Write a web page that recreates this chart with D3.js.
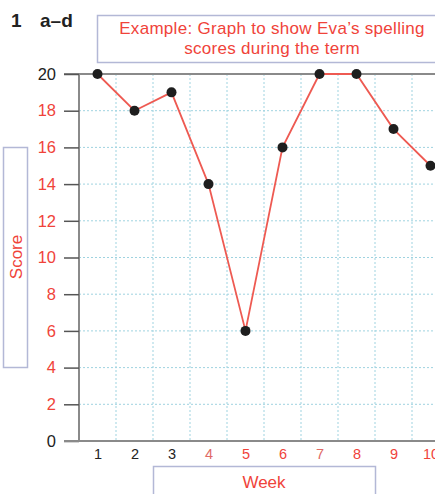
<!DOCTYPE html>
<html>
<head>
<meta charset="utf-8">
<script src="https://cdn.jsdelivr.net/npm/d3@7"></script>
<style>
  html, body { margin: 0; padding: 0; background: #fff; }
  svg { display: block; font-family: "Liberation Sans", Arial, sans-serif; }
</style>
</head>
<body>
<svg id="chart" width="435" height="494"></svg>
<script>
// Eva's spelling scores, week by week
const weeks = [1, 2, 3, 4, 5, 6, 7, 8, 9, 10];
const scores = [20, 18, 19, 14, 6, 16, 20, 20, 17, 15];
const scoreTicks = [0, 2, 4, 6, 8, 10, 12, 14, 16, 18, 20];
const weekLabels = ["1", "2", "3", "4", "5", "6", "7", "8", "9", "10"];
const weekLabelColors = ["#222", "#222", "#222", "#e06a66", "#f0433a", "#f0433a", "#e06a66", "#f0433a", "#f0433a", "#f0433a"];
const scoreLabelColors = ["#222", "#f0433a", "#f0433a", "#f0433a", "#f0433a", "#f0433a", "#f0433a", "#f0433a", "#f0433a", "#f0433a", "#222"];

const RED = "#f0433a";
const svg = d3.select("#chart");

const x = d3.scaleLinear().domain([0.5, 10.5]).range([79, 449]);
const y = d3.scaleLinear().domain([0, 20]).range([441, 74]);

// Heading
svg.append("text").attr("x", 11).attr("y", 27)
  .attr("font-size", 19).attr("font-weight", "bold").attr("fill", "#222").text("1");
svg.append("text").attr("x", 40).attr("y", 27)
  .attr("font-size", 19).attr("font-weight", "bold").attr("fill", "#222").text("a–d");

// Title box
svg.append("rect").attr("x", 97.5).attr("y", 15.5).attr("width", 345).attr("height", 47)
  .attr("fill", "#fff").attr("stroke", "#b3b8d6").attr("stroke-width", 1.5);
svg.append("text").attr("x", 272).attr("y", 34).attr("text-anchor", "middle")
  .attr("font-size", 17).attr("letter-spacing", 0.3).attr("fill", RED).text("Example: Graph to show Eva’s spelling");
svg.append("text").attr("x", 272).attr("y", 54).attr("text-anchor", "middle")
  .attr("font-size", 17).attr("letter-spacing", 0.3).attr("fill", RED).text("scores during the term");

// Grid: horizontal dashed lines at each score tick
svg.append("g").selectAll("line").data(scoreTicks.filter(d => d > 0 && d < 20)).join("line")
  .attr("x1", 79).attr("x2", 435).attr("y1", d => y(d)).attr("y2", d => y(d))
  .attr("stroke", "#9fd3e0").attr("stroke-width", 1).attr("stroke-dasharray", "2,2");

// Grid: vertical dashed lines between weeks
svg.append("g").selectAll("line").data(weeks.map(w => w + 0.5)).join("line")
  .attr("x1", d => x(d)).attr("x2", d => x(d)).attr("y1", y(20)).attr("y2", y(0))
  .attr("stroke", "#9fd3e0").attr("stroke-width", 1).attr("stroke-dasharray", "2,2");

// Top line at 20
svg.append("line").attr("x1", 64).attr("x2", 435).attr("y1", y(20)).attr("y2", y(20))
  .attr("stroke", "#8a8a8a").attr("stroke-width", 2);

// Y axis
const yAxis = svg.append("g").attr("transform", "translate(79,0)")
  .call(d3.axisLeft(y).tickValues(scoreTicks).tickSize(15).tickPadding(8).tickFormat(d3.format("d")));
yAxis.select(".domain").attr("stroke", "#8a8a8a").attr("stroke-width", 2).attr("d", `M0,${y(20)}V${y(0)}`);
yAxis.selectAll(".tick line").attr("stroke", "#555").attr("stroke-width", 1.5);
yAxis.selectAll(".tick text").attr("font-size", 16.5).attr("font-family", "Liberation Sans, Arial, sans-serif")
  .attr("fill", (d, i) => scoreLabelColors[i]);

// X axis
const xAxis = svg.append("g").attr("transform", `translate(0,${y(0)})`)
  .call(d3.axisBottom(x).tickValues(weeks).tickSize(0).tickPadding(8).tickFormat((d, i) => weekLabels[i]));
xAxis.select(".domain").attr("stroke", "#8a8a8a").attr("stroke-width", 2).attr("d", `M64,0H435`);
xAxis.selectAll(".tick text").attr("font-size", 14.5).attr("font-family", "Liberation Sans, Arial, sans-serif")
  .attr("fill", (d, i) => weekLabelColors[i]);

// Score label box
svg.append("rect").attr("x", 3.5).attr("y", 147.5).attr("width", 24).attr("height", 220)
  .attr("fill", "#fff").attr("stroke", "#b3b8d6").attr("stroke-width", 1.5);
svg.append("text").attr("transform", "translate(22,257) rotate(-90)").attr("text-anchor", "middle")
  .attr("font-size", 17).attr("fill", RED).text("Score");

// Week label box
svg.append("rect").attr("x", 153.5).attr("y", 466.5).attr("width", 222).attr("height", 40)
  .attr("fill", "#fff").attr("stroke", "#b3b8d6").attr("stroke-width", 1.5);
svg.append("text").attr("x", 264).attr("y", 488).attr("text-anchor", "middle")
  .attr("font-size", 17).attr("fill", RED).text("Week");

// Line and points
const data = weeks.map((w, i) => ({ w, s: scores[i] }));
svg.append("path").datum(data)
  .attr("fill", "none").attr("stroke", "#ee5a52").attr("stroke-width", 1.8)
  .attr("d", d3.line().x(d => x(d.w)).y(d => y(d.s)));
svg.append("g").selectAll("circle").data(data).join("circle")
  .attr("cx", d => x(d.w)).attr("cy", d => y(d.s)).attr("r", 5).attr("fill", "#1e1e1e");
</script>
</body>
</html>
